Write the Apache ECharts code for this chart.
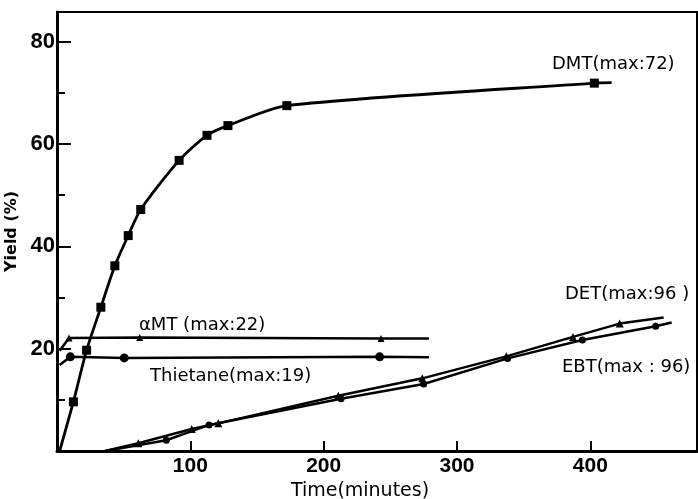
<!DOCTYPE html>
<html><head><meta charset="utf-8">
<script src="https://cdn.jsdelivr.net/npm/echarts@6/dist/echarts.min.js"></script>
<style>html,body{margin:0;padding:0;background:#fff}#c{width:698px;height:499px}</style>
</head><body><div id="c"></div>
<script>
// ---- data ----
const xTickValues = [100, 200, 300, 400];
const yTickValues = [20, 40, 60, 80];
const xTitle = 'Time(minutes)';
const yTitle = 'Yield (%)';
// each curve: [time, yield]; first/last points are curve ends (no marker)
const dmtPoints = [[2,0],[12.3,9.6],[22.2,19.7],[32.9,28.1],[43.4,36.2],[53.4,42.1],[62.8,47.2],[91.6,56.8],[112.5,61.7],[128.2,63.6],[172.4,67.5],[403,71.9],[416,72]];
const amtPoints = [[2,19.6],[9,22.1],[62,22.2],[243,22.0],[279,22.0]];
const thietanePoints = [[2,16.8],[10,18.4],[50.4,18.2],[242,18.4],[279,18.3]];
const detPoints = [[36,0],[61,1.5],[101,4.3],[121,5.4],[211,10.8],[274,14.2],[337,18.5],[387,22.3],[422,24.9],[455,26.1]];
const ebtPoints = [[36,0],[82,2.1],[114,5.1],[213,10.2],[275,13.1],[338,18.1],[394,21.7],[449,24.4],[461,25.1]];
const curveLabels = ['DMT(max:72)', 'αMT (max:22)', 'Thietane(max:19)', 'DET(max:96 )', 'EBT(max : 96)'];

function withEnds(pts){
  return pts.map((p,i)=> (i===0||i===pts.length-1) ? {value:p, symbol:'none'} : {value:p});
}
const chart = echarts.init(document.getElementById('c'), null, {renderer:'canvas'});
const axisFont = "'Liberation Sans',sans-serif";
const txtFont = "'DejaVu Sans',sans-serif";
function mkSeries(name, pts, symbol, size, width, smooth){
  return {name, type:'line', data:withEnds(pts), symbol, symbolSize:size, smooth,
    showSymbol:true, lineStyle:{color:'#000', width}, itemStyle:{color:'#000'},
    animation:false, z:3};
}
function label(text, x, y){
  return {type:'text', x, y, z:10, style:{text, fill:'#000', font:'18px '+txtFont,
    align:'left', verticalAlign:'middle', textAlign:'left', textVerticalAlign:'middle'}};
}
chart.setOption({
  backgroundColor:'#fff',
  animation:false,
  grid:{left:57, right:1, top:12, bottom:48, containLabel:false, outerBoundsMode:'none',
    show:true, borderColor:'#000', borderWidth:2},
  xAxis:{type:'value', min:0, max:480, interval:100,
    name:xTitle, nameLocation:'middle', nameGap:29,
    nameTextStyle:{fontFamily:txtFont, fontSize:19, color:'#000', padding:[0,34,0,0]},
    axisLine:{lineStyle:{color:'#000', width:3}},
    axisTick:{inside:true, length:10, lineStyle:{color:'#000', width:2}},
    axisLabel:{color:'#000', fontFamily:axisFont, fontWeight:'bold', fontSize:21, margin:5,
      showMinLabel:false, showMaxLabel:false,
      formatter:v=> xTickValues.includes(v) ? String(v) : ''},
    splitLine:{show:false}},
  yAxis:{type:'value', min:0, max:85.8, interval:20,
    name:yTitle, nameLocation:'middle', nameGap:33, nameRotate:90,
    nameTextStyle:{fontFamily:txtFont, fontSize:16, fontWeight:'bold', color:'#000'},
    axisLine:{lineStyle:{color:'#000', width:3}},
    axisTick:{inside:true, length:14, lineStyle:{color:'#000', width:2}},
    minorTick:{show:true, splitNumber:2, length:8, lineStyle:{color:'#000', width:2}},
    axisLabel:{color:'#000', fontFamily:axisFont, fontWeight:'bold', fontSize:22, margin:2,
      showMinLabel:false, showMaxLabel:false,
      formatter:v=> yTickValues.includes(v) ? String(v) : ''},
    splitLine:{show:false}},
  series:[
    mkSeries('DMT', dmtPoints, 'rect', 9, 2.8, 0.25),
    mkSeries('αMT', amtPoints, 'triangle', 7, 2.5, false),
    mkSeries('Thietane', thietanePoints, 'circle', 9, 2.5, false),
    mkSeries('DET', detPoints, 'triangle', 8, 2.5, false),
    mkSeries('EBT', ebtPoints, 'circle', 7, 2.5, false)
  ],
  graphic:[
    label(curveLabels[0], 552, 64),
    label(curveLabels[1], 139, 325),
    label(curveLabels[2], 150, 376),
    label(curveLabels[3], 565, 294),
    label(curveLabels[4], 562, 367)
  ]
});
</script></body></html>
